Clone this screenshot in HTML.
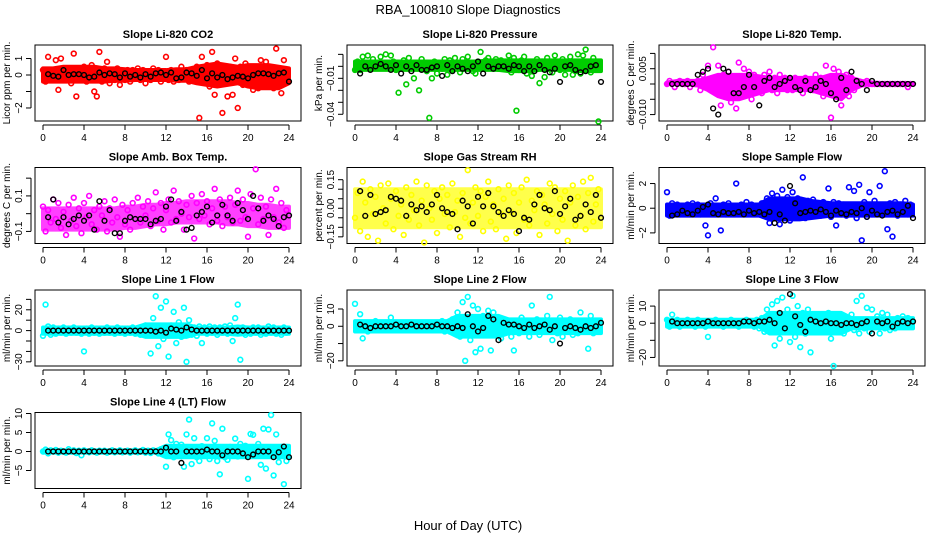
<!DOCTYPE html>
<html><head><meta charset="utf-8"><style>
body{margin:0;background:#fff}
svg{display:block;font-family:"Liberation Sans",sans-serif}
</style></head><body>
<svg id="c" width="936" height="540" viewBox="0 0 936 540">
<text x="468" y="14" text-anchor="middle" font-size="13">RBA_100810  Slope Diagnostics</text>
<text x="468" y="530" text-anchor="middle" font-size="13">Hour of Day (UTC)</text>
</svg>
<script>
const xTicks=[0,4,8,12,16,20,24];
const bandHours=[0,1,2,3,4,5,6,7,8,9,10,11,12,13,14,15,16,17,18,19,20,21,22,23,24];
const titles=["Slope Li-820 CO2","Slope Li-820 Pressure","Slope Li-820 Temp.","Slope Amb. Box Temp.","Slope Gas Stream RH","Slope Sample Flow","Slope Line 1 Flow","Slope Line 2 Flow","Slope Line 3 Flow","Slope Line 4 (LT) Flow"];
const yTitles=["Licor ppm per min.","kPa per min.","degrees C per min.","degrees C per min.","percent per min.","ml/min per min.","ml/min per min.","ml/min per min.","ml/min per min.","ml/min per min."];
const colors=["#ff0000","#00cc00","#ff00ff","#ff00ff","#ffff00","#0000ff","#00ffff","#00ffff","#00ffff","#00ffff"];
const bandOpacity=[1,1,1,0.75,0.7,1,1,1,1,1];
const yMin=[-2.79,-0.0456,-0.0121,-0.168,-0.185,-2.86,-34,-23,-25,-9.74];
const yMax=[1.82,0.0178,0.01275,0.26,0.214,3.3,39,21,19.4,10.26];
const yTickVals=[[-2,-1,0,1],[-0.04,-0.03,-0.02,-0.01,0,0.01],[-0.01,-0.005,0,0.005,0.01],[-0.1,0,0.1,0.2],[-0.15,-0.1,-0.05,0,0.05,0.1,0.15],[-2,0,2],[-30,-20,-10,0,10,20,30],[-20,-10,0,10],[-20,-10,0,10],[-5,0,5,10]];
const yTickLabels=[{"-2":"\u22122","0":"0","1":"1"},{"-0.04":"\u22120.04","-0.01":"\u22120.01"},{"-0.01":"\u22120.010","0.005":"0.005"},{"-0.1":"\u22120.1","0.1":"0.1"},{"-0.15":"\u22120.15","0":"0.00","0.15":"0.15"},{"-2":"\u22122","0":"0","2":"2"},{"-30":"\u221230","0":"0","20":"20"},{"-20":"\u221220","0":"0","10":"10"},{"-20":"\u221220","0":"0","10":"10"},{"-5":"\u22125","0":"0","5":"5","10":"10"}];
const scale=[1,0.001,0.001,0.01,0.01,1,1,1,1,1];
const lo0=[-0.4,-0.4,-0.4,-0.4,-0.4,-0.4,-0.4,-0.35,-0.35,-0.3,-0.3,-0.3,-0.3,-0.35,-0.35,-0.5,-0.6,-0.7,-0.6,-0.5,-0.7,-0.8,-0.8,-0.8,-0.5];
const hi0=[0.4,0.4,0.5,0.5,0.5,0.5,0.4,0.4,0.35,0.3,0.3,0.3,0.3,0.35,0.35,0.5,0.6,0.7,0.6,0.5,0.6,0.6,0.6,0.5,0.4];
const lo1=[-3,-3,-3,-3,-3,-3,-3,-3,-3,-3,-3,-3,-3,-3,-3,-4,-4,-4,-3,-3,-3,-3,-4,-4,-4];
const hi1=[4,4,4,4,4,4,4,4,4,4,4,4,4,5,5,5,5,5,5,5,5,5,5,5,5];
const lo2=[0,0,0,-0.5,-2,-4,-5,-5,-4,-3,-2,-2,-2,-2,-2,-3,-4,-5,-2,-0.5,0,0,0,0,0];
const hi2=[0.5,1,1,1,2,3,3,3,3,2.5,2,2,2,2,2,2,3,3,2,1,0.5,0.3,0.3,0.3,0.3];
const lo3=[-9,-9,-9,-9,-9,-9,-9,-9,-8,-8,-7,-6,-6,-5,-5,-5,-5,-5,-6,-6,-7,-7,-8,-8,-8];
const hi3=[3,3,3,3,3,3,3,3,4,4,5,5,6,6,7,7,7,7,7,6,6,5,5,4,4];
const lo4=[-10,-10,-10,-10,-10,-10,-10,-10,-10,-10,-10,-10,-10,-10,-10,-10,-10,-10,-10,-10,-10,-10,-10,-10,-10];
const hi4=[10,10,10,10,10,10,10,10,10,10,10,10,10,10,10,10,10,10,10,10,10,10,10,10,10];
const lo5=[-0.6,-0.6,-0.6,-0.6,-0.6,-0.6,-0.6,-0.6,-0.6,-0.6,-0.9,-0.9,-0.9,-0.9,-0.8,-0.7,-0.6,-0.6,-0.6,-0.6,-0.6,-0.6,-0.6,-0.6,-0.6];
const hi5=[0.3,0.3,0.3,0.3,0.3,0.3,0.3,0.3,0.3,0.3,0.8,0.8,0.8,0.8,0.6,0.5,0.4,0.4,0.4,0.4,0.4,0.4,0.4,0.4,0.3];
const lo6=[-3,-3,-3,-3,-3,-3,-3,-3,-3,-3,-6,-6,-6,-6,-6,-3,-3,-3,-3,-4,-3,-3,-3,-3,-3];
const hi6=[3,3,3,3,3,3,3,3,3,3,6,6,6,6,6,3,3,3,3,4,3,3,3,3,3];
const lo7=[-3,-3,-3,-3,-3,-3,-3,-3,-3,-3,-6,-6,-6,-6,-6,-4,-4,-4,-4,-4,-4,-4,-4,-4,-4];
const hi7=[3,3,3,3,3,3,3,3,3,3,6,6,6,6,6,4,4,4,4,4,4,4,4,4,4];
const lo8=[-2,-2,-2,-2,-2,-2,-2,-2,-2,-2,-6,-6,-6,-6,-6,-6,-6,-6,-3,-3,-3,-3,-3,-3,-3];
const hi8=[2,2,2,2,2,2,2,2,2,2,6,6,6,6,6,6,6,6,3,3,3,3,3,3,3];
const lo9=[-0.3,-0.3,-0.3,-0.3,-0.3,-0.3,-0.3,-0.3,-0.3,-0.3,-0.3,-0.3,-1.5,-1.5,-1.5,-1.5,-1.5,-1.5,-1.5,-1.5,-1.5,-1.5,-1.5,-1.5,-1.5];
const hi9=[0.3,0.3,0.3,0.3,0.3,0.3,0.3,0.3,0.3,0.3,0.3,0.3,1.5,1.5,1.5,1.5,1.5,1.5,1.5,1.5,1.5,1.5,1.5,1.5,1.5];
const bandLo=[lo0,lo1,lo2,lo3,lo4,lo5,lo6,lo7,lo8,lo9];
const bandHi=[hi0,hi1,hi2,hi3,hi4,hi5,hi6,hi7,hi8,hi9];
const col0=[0.3,-0.4,1.1,0.2,-0.3,0.9,-0.9,1.0,0.3,-0.2,0.4,-0.5,1.3,-1.3,0.3,-0.3,0.5,-0.4,0.2,0.6,-1.0,-1.3,1.4,-0.4,0.4,0.8,-0.5,0.3,-0.3,0.4,-0.6,0.2,-0.3,0.3,-0.4,0.3,-0.2,0.4,-0.3,0.3,-0.5,0.2,-0.3,0.4,-0.2,0.3,-0.4,0.2,1.1,-0.3,0.3,-0.4,0.2,-0.3,0.5,-0.2,0.3,-0.4,0.2,-0.3,0.5,-2.6,1.1,-0.3,0.6,-0.7,1.4,-1.2,0.7,-0.5,-2.3,0.4,-1.3,0.5,-1.2,1.0,-2.0,0.5,-0.6,0.7,-0.3,0.5,-0.9,0.4,-0.8,0.9,-0.6,0.8,-0.5,0.3,-0.8,1.6,-0.7,-1.1,0.9,-0.3];
const blk0=[0.05,-0.05,-0.1,0.3,0.0,0.05,0.05,0.0,-0.15,-0.1,0.15,0.0,0.1,0.05,-0.15,0.1,-0.1,0.0,-0.15,0.05,-0.1,0.1,0.15,0.0,0.15,-0.2,-0.15,0.15,0.1,-0.05,0.3,-0.2,0.1,-0.15,0.0,-0.25,-0.15,-0.05,-0.1,-0.2,0.0,0.1,0.1,0.05,-0.05,0.1,0.15,-0.4];
const col1=[-3,4,-3,8,2,9,-2,6,3,-1,8,3,10,-1,9,4,-3,-22,2,5,-15,7,-1,-10,3,-20,6,2,-4,-43,-10,4,-6,3,-2,6,-7,5,-3,7,2,-5,6,-1,8,3,-4,-6,4,12,-2,5,7,-1,3,6,-2,5,2,4,9,-5,7,-37,-3,5,8,-6,3,-8,2,6,-14,4,-9,7,2,-5,9,3,-3,6,-7,2,8,-7,-4,10,-6,9,14,3,-5,7,2,-46];
const blk1=[-6,0,-3,0,2,0,-3,1,-6,0,-4,1,-3,-3,-1,0,-8,1,-4,0,-2,-4,0,4,-6,0,-2,0,0,-2,1,0,-4,0,-4,1,-3,-5,-2,-13,0,1,-3,-5,-4,0,1,-13];
const col2=[0,1,0,-1,0,1,0,0,1,-1,0,0,1,-2,3,-1,6,-2,12,-3,6,-7,3,-4,4,-6,2,-8,7,-2,5,-3,4,-5,3,-2,2,-3,3,-1,4,-2,2,-3,3,-1,2,-2,1,-2,2,-1,1,-3,2,-1,1,-2,3,-1,2,-4,6,-2,-11,5,-3,4,-7,-2,3,-4,2,-2,1,0,0,0,1,0,0,0,0,0,0,0,0,0,0,0,0,0,0,0,-1,0];
const blk2=[0,0,0,0,0,3,4,5,-8,-10,5,4,-3,-3,-1,3,-1,-7,1,2,-1,0,1,2,-1,-2,1,-2,-1,1,0,-3,-5,2,-2,4,1,0,-2,1,0,0,0,0,0,0,0,0];
const col3=[4,-10,2,-5,8,-3,6,-8,1,-12,5,-4,9,-7,3,-11,6,-2,10,-6,2,-9,4,-1,7,-10,3,-5,8,-2,-13,5,-6,2,-9,6,-3,9,-5,4,-1,7,-7,3,12,-4,6,-9,2,8,-5,13,-3,7,0,-9,5,-2,10,-14,6,-3,11,-1,7,-6,3,14,-4,8,-7,4,-2,9,-5,5,13,-4,8,-2,-13,11,3,25,-6,9,-3,4,-12,8,-2,14,-5,6,-8,2];
const blk3=[-2,8,-5,-2,-6,-3,-1,-4,-1,-9,7,-4,2,-11,-11,-4,-2,-3,-3,-3,-6,-4,-3,4,8,-4,1,-9,-8,-1,1,4,-5,-1,5,-1,-4,6,2,-3,10,3,-4,-1,-3,-7,-2,-1];
const col4=[-5,8,-12,14,3,-15,10,-3,6,-17,12,0,-8,13,5,-11,9,-4,2,-14,11,-6,7,-1,14,-9,4,-18,12,0,-6,9,-13,5,11,-3,7,-10,13,-2,4,-15,8,-5,20,-8,3,11,-4,9,-12,6,14,-7,2,-11,10,-3,5,-16,12,-2,8,-13,3,11,-6,15,-9,4,-1,9,-14,7,2,-8,13,-3,11,-12,5,-6,9,-17,3,12,-9,6,-4,14,-11,8,16,-7,2,10];
const blk4=[9,-4,7,-3,-2,-1,6,5,4,-4,2,-1,1,-2,2,7,0,-2,-3,-11,4,1,-8,6,1,8,1,-2,-4,-1,-3,-12,-5,-6,2,7,0,-1,9,-3,1,5,-6,-4,2,-2,7,-5];
const col5=[1.3,-0.6,0.4,-0.3,0.3,-0.5,0.2,-0.4,0.3,-0.5,0.4,-0.2,0.3,-0.5,0.2,-1.4,-2.2,0.4,-0.4,0.8,-0.3,-1.8,0.3,-0.5,0.4,-0.3,0.2,2.0,-0.4,0.3,-0.5,0.5,-0.3,0.3,-0.4,0.2,-0.5,0.4,-0.3,0.8,-1.2,1.2,-0.8,1.0,-1.3,1.5,-0.6,0.9,-1.0,1.3,-0.7,0.8,-0.5,2.5,-0.8,0.6,-0.4,0.7,-0.5,0.4,-0.6,0.5,-0.4,1.6,-0.7,0.5,-1.4,0.4,-0.5,0.3,-0.6,1.7,-0.4,1.4,-0.8,1.9,-2.6,0.5,-0.7,1.3,-0.5,0.6,-0.3,1.8,-0.5,3.0,-1.7,0.4,-2.3,0.5,-0.6,0.3,-0.4,0.6,-0.5,0.3];
const blk5=[-0.6,-0.5,-0.2,-0.4,-0.5,-0.2,0.1,0.3,-0.4,-0.5,-0.3,-0.4,-0.4,-0.3,-0.5,-0.2,-0.4,-0.3,-0.5,-0.3,-1.2,-0.5,-1.0,1.8,0.4,-0.4,-0.3,-0.2,-0.3,-0.1,-0.3,-0.6,-0.2,-0.4,-0.5,-0.3,-0.4,0.0,-0.7,-0.2,-0.5,-0.6,-0.3,-0.2,-0.5,-0.3,0.2,-0.8];
const col6=[-5,25,4,-4,3,-3,2,-2,3,-3,2,-2,3,-2,2,-3,-20,2,-3,3,-2,2,-3,2,-2,3,-2,2,-3,3,-2,2,-3,2,-2,3,-3,2,-4,3,5,-3,-22,12,33,-15,22,-8,28,-25,5,18,-12,8,-6,22,-30,10,-4,3,-5,4,-12,3,-3,4,-2,3,-4,3,-2,4,-3,5,-10,12,25,-28,3,-4,2,-3,3,-2,3,-4,2,-3,4,-2,3,-3,2,-4,3,-2];
const blk6=[0,0,0,0,0,0,0,0,0,0,0,0,0,0,0,0,0,0,0,0,0,-1,0,-2,2,1,0,3,1,0,0,0,0,0,0,0,0,0,0,0,0,0,0,0,0,0,0,0];
const col7=[13,-2,7,-7,2,-3,2,-1,3,-2,1,-2,2,-1,5,-2,2,-1,1,-2,2,-1,1,-2,1,-2,2,-1,1,-2,2,-1,1,-2,3,-3,2,-3,4,-4,8,-6,14,-20,17,-8,12,-15,10,-13,6,-5,9,-14,8,-4,5,-7,4,-3,3,-6,-14,3,-4,5,-3,2,-6,12,-2,4,-5,3,-3,6,17,-8,3,-4,5,-6,3,-2,4,-5,3,-4,8,-3,2,-13,6,-4,3,-2];
const blk7=[1,0,-1,0,0,0,0,1,0,0,1,0,0,0,0,1,0,0,-1,0,-1,7,0,-3,-1,6,4,-8,2,1,1,0,-1,1,-1,0,1,-2,0,-10,-1,0,-1,-2,0,-1,0,2];
const col8=[2,-2,5,-1,2,-2,1,-1,2,-1,1,-2,2,-1,1,-2,-8,1,-1,2,-1,1,-2,1,-1,2,-1,1,-2,1,-1,2,-1,1,-2,2,-3,3,-5,8,-4,11,-13,13,-9,15,-5,8,-11,16,-8,10,-14,6,-6,8,-17,4,-3,5,-5,3,-2,6,-9,-25,4,-5,3,-6,2,-3,5,-4,13,-6,16,-3,9,-5,8,-2,4,-6,6,-3,5,-4,2,-3,3,-2,4,-2,3,-1];
const blk8=[1,0,0,0,0,0,0,1,0,0,0,0,0,0,1,1,0,1,1,2,0,6,-3,17,4,-1,-5,2,1,0,1,0,0,-1,0,0,-1,0,1,-6,1,0,1,-2,0,1,0,1];
const col9=[0,0.5,-0.5,0.3,0,0.4,-0.3,0.2,0,-0.3,0.6,0,0.3,-0.4,0.2,-1,0.3,0,-0.2,0.3,0,-0.3,0.2,0,0.2,-0.3,0,0.3,-0.2,0,0.3,-0.2,0,0.2,-0.3,0,0.3,-0.2,0,0.4,-0.3,0.2,-0.4,0.3,0,-0.5,0.6,-0.8,-4,4.5,3,-1.5,2,-0.5,1.8,-4,4.5,8.4,-3.3,3.5,-1.5,-2.5,1.4,-0.8,3.5,-2,7.4,2.8,-2.5,-6,6,-1.5,-2.2,1.2,-1,3.4,-1.3,2,-0.5,1.5,-7.2,4.6,4.4,-1,2,-3.5,6,-4.5,5.8,9.6,-6.3,4.5,-2.8,1.2,-8.6,-2.5];
const blk9=[0,0,0,0,0,0,0,0,0,0,0,0,0,0,0,0,0,0,0,0,0,0,0,1,0,0,-3,0,0,0,0,0.5,0,0,-1,0,0,0,-0.5,-1.5,-0.8,0,0,0,-1.5,-0.2,1.3,-1.5];
const colored=[col0,col1,col2,col3,col4,col5,col6,col7,col8,col9];
const black=[blk0,blk1,blk2,blk3,blk4,blk5,blk6,blk7,blk8,blk9];

const svg=document.getElementById('c');
const NS='http://www.w3.org/2000/svg';
function mk(tag,attrs,parent){const e=document.createElementNS(NS,tag);for(const k in attrs)e.setAttribute(k,attrs[k]);(parent||svg).appendChild(e);return e;}
const rowTops=[45,167.5,290,412.5], H=76;
for(let p=0;p<10;p++){
  const col=p%3,row=Math.floor(p/3),c=312*col,top=rowTops[row],bot=top+H;
  const g=mk('g',{});
  
  
  const xs=t=>43+c+t*10.25;
  const ys=v=>bot-(v-yMin[p])/(yMax[p]-yMin[p])*H;
  const sc=scale[p];
  const up=bandHours.map((h,i)=>xs(h)+','+ys(bandHi[p][i]*sc));
  const dn=bandHours.map((h,i)=>xs(h)+','+ys(bandLo[p][i]*sc)).reverse();
  const band=mk('polygon',{points:up.concat(dn).join(' '),fill:colors[p],stroke:colors[p],'stroke-width':4,'stroke-linejoin':'round',opacity:bandOpacity[p]},g);
  
  
  const box=mk('rect',{x:35+c,y:top,width:266,height:H,fill:'none',stroke:'#000','stroke-width':1},g);
  
  
  const tt=mk('text',{x:168+c,y:top-7,'text-anchor':'middle','font-size':11,'font-weight':'bold'},g);
  tt.textContent=titles[p];
  
  
  const xa=mk('g',{},g);
  
  
  mk('line',{x1:xs(0),x2:xs(24),y1:bot+4,y2:bot+4,stroke:'#000'},xa);
  xTicks.forEach(t=>{
    mk('line',{x1:xs(t),x2:xs(t),y1:bot+4,y2:bot+9,stroke:'#000'},xa);
    const l=mk('text',{x:xs(t),y:bot+20,'text-anchor':'middle','font-size':10},xa);
    l.textContent=t;
    
    
  });
  const ya=mk('g',{},g);
  
  
  const tv=yTickVals[p];
  mk('line',{x1:31+c,x2:31+c,y1:ys(tv[0]),y2:ys(tv[tv.length-1]),stroke:'#000'},ya);
  tv.forEach(v=>{
    const y=ys(v);
    mk('line',{x1:26+c,x2:31+c,y1:y,y2:y,stroke:'#000'},ya);
    const lab=yTickLabels[p][String(v)];
    if(lab!==undefined){
      const l=mk('text',{x:22+c,y:y,'text-anchor':'middle','font-size':10,transform:`rotate(-90 ${22+c} ${y})`},ya);
      l.textContent=lab;
      
      
    }
  });
  const yt=mk('text',{x:10+c,y:top+H/2,'text-anchor':'middle','font-size':10,transform:`rotate(-90 ${10+c} ${top+H/2})`},g);
  yt.textContent=yTitles[p];
  
  
  const gc=mk('g',{fill:'none',stroke:colors[p],'stroke-width':1.6},g);
  
  
  colored[p].forEach((v,i)=>{
    const pt=mk('circle',{cx:xs(i*0.25),cy:ys(v*sc),r:2.4},gc);
    
    
  });
  const gb=mk('g',{fill:'none',stroke:'#000','stroke-width':1.4},g);
  
  
  black[p].forEach((v,i)=>{
    const pt=mk('circle',{cx:xs(0.5*(i+1)),cy:ys(v*sc),r:2.4},gb);
    
    
  });
}
</script>
</body></html>
